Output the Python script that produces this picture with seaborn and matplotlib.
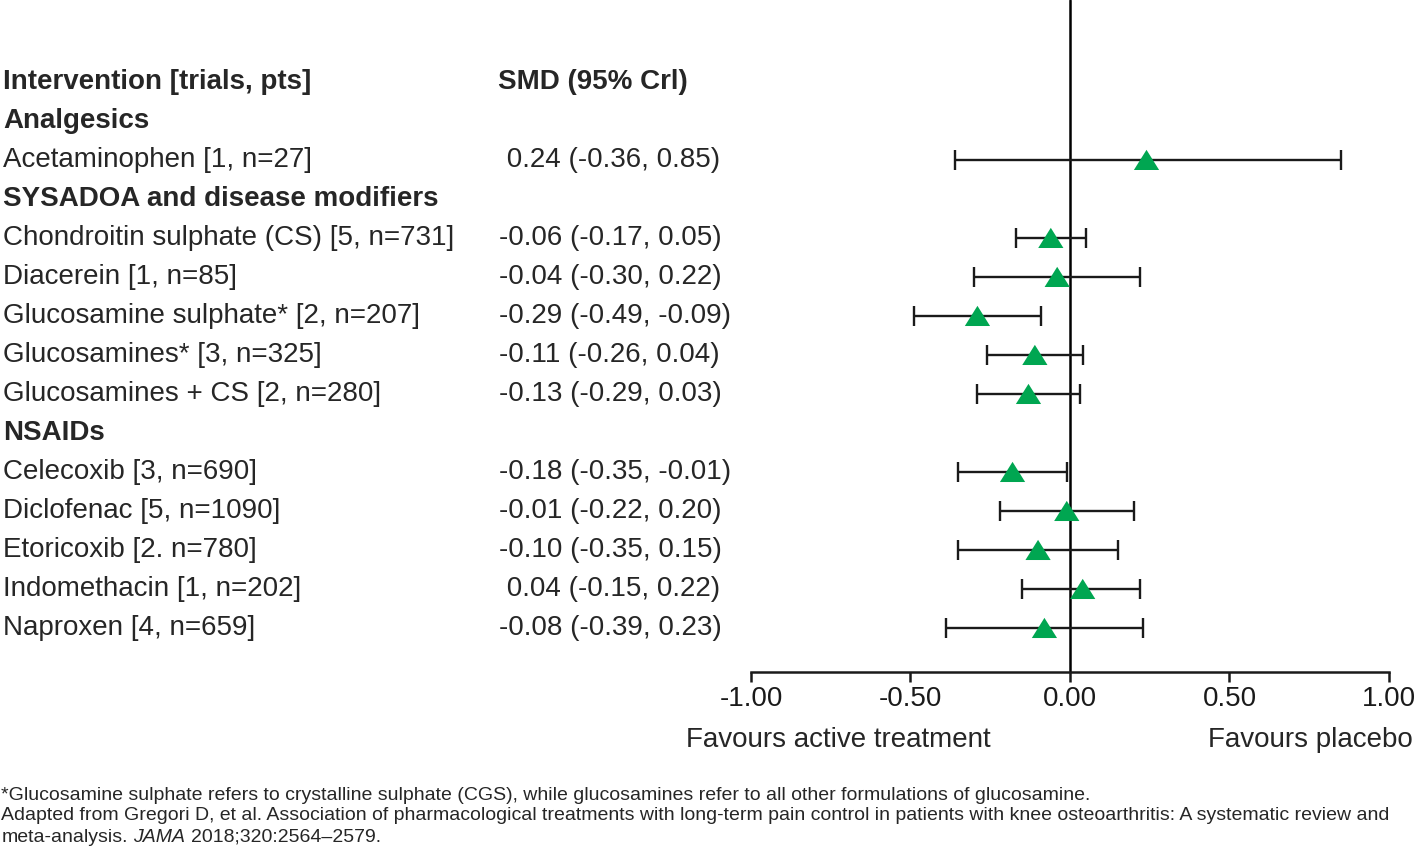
import matplotlib
matplotlib.use("Agg")
import matplotlib.pyplot as plt
import matplotlib.transforms as mtransforms
import seaborn as sns
import pandas as pd

# data
groups = ["Analgesics", "SYSADOA and disease modifiers", "SYSADOA and disease modifiers",
          "SYSADOA and disease modifiers", "SYSADOA and disease modifiers", "SYSADOA and disease modifiers",
          "NSAIDs", "NSAIDs", "NSAIDs", "NSAIDs", "NSAIDs"]
interventions = [
    "Acetaminophen [1, n=27]",
    "Chondroitin sulphate (CS) [5, n=731]",
    "Diacerein [1, n=85]",
    "Glucosamine sulphate* [2, n=207]",
    "Glucosamines* [3, n=325]",
    "Glucosamines + CS [2, n=280]",
    "Celecoxib [3, n=690]",
    "Diclofenac [5, n=1090]",
    "Etoricoxib [2. n=780]",
    "Indomethacin [1, n=202]",
    "Naproxen [4, n=659]",
]
smd = [0.24, -0.06, -0.04, -0.29, -0.11, -0.13, -0.18, -0.01, -0.10, 0.04, -0.08]
lower = [-0.36, -0.17, -0.30, -0.49, -0.26, -0.29, -0.35, -0.22, -0.35, -0.15, -0.39]
upper = [0.85, 0.05, 0.22, -0.09, 0.04, 0.03, -0.01, 0.20, 0.15, 0.22, 0.23]
x_ticks = [-1.0, -0.5, 0.0, 0.5, 1.0]

footnote = [
    "*Glucosamine sulphate refers to crystalline sulphate (CGS), while glucosamines refer to all other formulations of glucosamine.",
    "Adapted from Gregori D, et al. Association of pharmacological treatments with long-term pain control in patients with knee osteoarthritis: A systematic review and",
]

# build the row table (header row 0, group headers inserted)
rows = []
r = 1
prev = None
for g, name, m, lo, hi in zip(groups, interventions, smd, lower, upper):
    if g != prev:
        rows.append(dict(row=r, label=g, header=True, smd=None, lo=None, hi=None))
        r += 1
        prev = g
    rows.append(dict(row=r, label=name, header=False, smd=m, lo=lo, hi=hi))
    r += 1
df = pd.DataFrame(rows)
est = df[~df["header"]].copy()
est["smd"] = est["smd"].astype(float)
est["lo"] = est["lo"].astype(float)
est["hi"] = est["hi"].astype(float)

sns.set_style("ticks")
plt.rcParams["font.family"] = ["Liberation Sans", "DejaVu Sans"]

fig = plt.figure(figsize=(14.18, 8.5), dpi=100)
ax = fig.add_axes([0.5296, 0.2094, 0.4499, 0.7906])

ax.axvline(0, color="black", lw=1.8, zorder=1)
ax.errorbar(est["smd"], est["row"],
            xerr=[est["smd"] - est["lo"], est["hi"] - est["smd"]],
            fmt="none", ecolor="#1a1a1a", elinewidth=1.7, capsize=7, capthick=1.7, zorder=2)
tri = [(-1, -0.8), (1, -0.8), (0, 0.8)]
sns.scatterplot(data=est, x="smd", y="row", marker=tri, s=330, color="#00a651",
                edgecolor="none", ax=ax, zorder=3, legend=False)

ax.set_xlim(-1, 1)
ax.set_ylim(15.13, -2.1)
ax.set_xticks(x_ticks)
ax.set_xticklabels([f"{t:.2f}" for t in x_ticks], fontsize=20)
ax.tick_params(axis="x", length=7, width=1.8, pad=3, colors="#1a1a1a")
ax.set_yticks([])
ax.set_xlabel("")
ax.set_ylabel("")
sns.despine(ax=ax, left=True, top=True, right=True)
ax.spines["bottom"].set_linewidth(1.8)
ax.spines["bottom"].set_color("#1a1a1a")

# text columns: x in figure coords, y in data rows
trans = mtransforms.blended_transform_factory(fig.transFigure, ax.transData)
ax.text(0.002, 0, "Intervention [trials, pts]", transform=trans, fontsize=20,
        fontweight="bold", va="center", ha="left", clip_on=False)
ax.text(0.351, 0, "SMD (95% Crl)", transform=trans, fontsize=20,
        fontweight="bold", va="center", ha="left", clip_on=False)
for _, rw in df.iterrows():
    ax.text(0.002, rw["row"], rw["label"], transform=trans, fontsize=20,
            fontweight="bold" if rw["header"] else "normal",
            va="center", ha="left", clip_on=False)
    if not rw["header"]:
        s = f"{rw['smd']:.2f} ({rw['lo']:.2f}, {rw['hi']:.2f})"
        if rw["smd"] >= 0:
            s = " " + s
        ax.text(0.352, rw["row"], s, transform=trans, fontsize=20,
                va="center", ha="left", clip_on=False)

fig.text(0.4838, 0.129, "Favours active treatment", fontsize=20, ha="left", va="center")
fig.text(0.9965, 0.129, "Favours placebo", fontsize=20, ha="right", va="center")

fs = 14
fig.text(0.001, 1 - 796 / 850, footnote[0], fontsize=fs, ha="left", va="center")
fig.text(0.001, 1 - 816 / 850, footnote[1], fontsize=fs, ha="left", va="center")
t1 = fig.text(0.001, 1 - 837 / 850, "meta-analysis.", fontsize=fs, ha="left", va="center")
ann = ax.annotate("JAMA", xy=(1, 0), xycoords=t1, xytext=(4, 0), textcoords="offset points",
                  fontsize=fs, style="italic", va="bottom", ha="left", annotation_clip=False)
ax.annotate("2018;320:2564\u20132579.", xy=(1, 0), xycoords=ann, xytext=(4, 0),
            textcoords="offset points", fontsize=fs, va="bottom", ha="left",
            annotation_clip=False)

fig.savefig("out.png", dpi=100)
